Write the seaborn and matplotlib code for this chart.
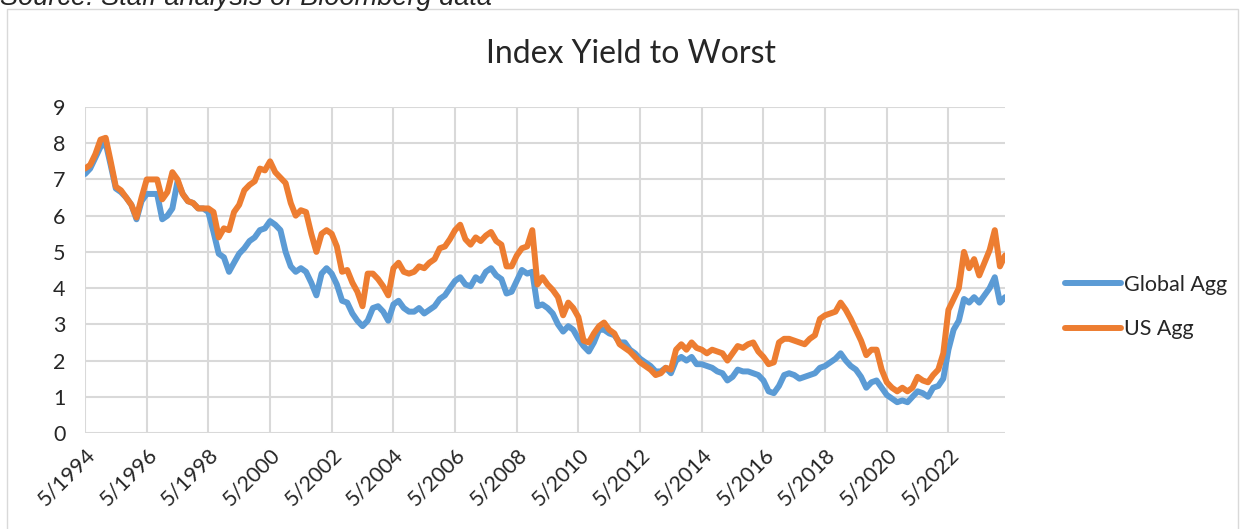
#Importing the necessary libraries
import matplotlib.pyplot as plt
from matplotlib.patches import Rectangle
import seaborn as sns
import pandas as pd

#Monthly points (every second month) from 5/1994 to 3/2024
dates = pd.date_range('1994-05-01', periods=180, freq='2MS')

global_agg = [7.15, 7.3, 7.6, 7.9, 8.0, 7.4, 6.75, 6.65, 6.5, 6.3,
              5.9, 6.4, 6.6, 6.6, 6.6, 5.9, 6.0, 6.2, 6.95, 6.6,
              6.4, 6.35, 6.2, 6.2, 6.1, 5.55, 4.95, 4.85, 4.45, 4.7,
              4.95, 5.1, 5.3, 5.4, 5.6, 5.65, 5.85, 5.75, 5.6, 5.0,
              4.6, 4.45, 4.55, 4.45, 4.15, 3.8, 4.4, 4.55, 4.4, 4.1,
              3.65, 3.6, 3.3, 3.1, 2.95, 3.1, 3.45, 3.5, 3.35, 3.1,
              3.55, 3.65, 3.45, 3.35, 3.35, 3.45, 3.3, 3.4, 3.5, 3.7,
              3.8, 4.0, 4.2, 4.3, 4.1, 4.05, 4.3, 4.2, 4.45, 4.55,
              4.35, 4.25, 3.85, 3.9, 4.2, 4.5, 4.4, 4.45, 3.5, 3.55,
              3.45, 3.3, 3.0, 2.8, 2.95, 2.85, 2.6, 2.4, 2.25, 2.5,
              2.85, 2.85, 2.75, 2.7, 2.5, 2.5, 2.3, 2.2, 2.05, 1.95,
              1.85, 1.7, 1.7, 1.8, 1.65, 2.0, 2.1, 2.0, 2.1, 1.9,
              1.9, 1.85, 1.8, 1.7, 1.65, 1.45, 1.55, 1.75, 1.7, 1.7,
              1.65, 1.6, 1.45, 1.15, 1.1, 1.3, 1.6, 1.65, 1.6, 1.5,
              1.55, 1.6, 1.65, 1.8, 1.85, 1.95, 2.05, 2.2, 2.0, 1.85,
              1.75, 1.55, 1.25, 1.4, 1.45, 1.25, 1.05, 0.95, 0.85, 0.9,
              0.85, 1.0, 1.15, 1.1, 1.0, 1.25, 1.3, 1.5, 2.3, 2.85,
              3.1, 3.7, 3.6, 3.75, 3.6, 3.8, 4.0, 4.3, 3.6, 3.75]

us_agg = [7.3, 7.4, 7.7, 8.1, 8.15, 7.5, 6.8, 6.7, 6.5, 6.3,
          5.95, 6.5, 7.0, 7.0, 7.0, 6.45, 6.65, 7.2, 7.0, 6.6,
          6.4, 6.35, 6.2, 6.2, 6.2, 6.1, 5.4, 5.65, 5.6, 6.1,
          6.3, 6.7, 6.85, 6.95, 7.3, 7.25, 7.5, 7.2, 7.05, 6.9,
          6.35, 6.0, 6.15, 6.1, 5.5, 5.0, 5.5, 5.6, 5.5, 5.15,
          4.45, 4.5, 4.15, 3.9, 3.5, 4.4, 4.4, 4.25, 4.05, 3.8,
          4.55, 4.7, 4.45, 4.4, 4.45, 4.6, 4.55, 4.7, 4.8, 5.1,
          5.15, 5.35, 5.6, 5.75, 5.35, 5.2, 5.4, 5.3, 5.45, 5.55,
          5.3, 5.2, 4.6, 4.6, 4.9, 5.1, 5.15, 5.6, 4.1, 4.3,
          4.1, 3.95, 3.75, 3.25, 3.6, 3.45, 3.2, 2.55, 2.5, 2.75,
          2.95, 3.05, 2.85, 2.75, 2.45, 2.35, 2.25, 2.1, 1.95, 1.85,
          1.75, 1.6, 1.65, 1.8, 1.75, 2.3, 2.45, 2.3, 2.5, 2.35,
          2.3, 2.2, 2.3, 2.25, 2.2, 2.0, 2.2, 2.4, 2.35, 2.45,
          2.5, 2.25, 2.1, 1.9, 1.95, 2.5, 2.6, 2.6, 2.55, 2.5,
          2.45, 2.6, 2.7, 3.15, 3.25, 3.3, 3.35, 3.6, 3.4, 3.15,
          2.85, 2.55, 2.15, 2.3, 2.3, 1.75, 1.4, 1.25, 1.15, 1.25,
          1.15, 1.25, 1.55, 1.45, 1.4, 1.6, 1.75, 2.2, 3.4, 3.7,
          4.0, 5.0, 4.55, 4.8, 4.35, 4.7, 5.05, 5.6, 4.6, 4.9]

series_names = ['Global Agg', 'US Agg']
series_colors = ['#5B9BD5', '#ED7D31']
y_ticks = [0, 1, 2, 3, 4, 5, 6, 7, 8, 9]
tick_dates = pd.date_range('1994-05-01', '2022-05-01', freq='24MS')

df = pd.DataFrame({'Date': list(dates) * 2,
                   'Yield': global_agg + us_agg,
                   'Series': [series_names[0]] * len(dates) + [series_names[1]] * len(dates)})

sns.set_style('white')
plt.rcParams['font.family'] = ['Lato', 'DejaVu Sans']

fig = plt.figure(figsize=(12.44, 5.29), dpi=100)
ax = fig.add_axes([85 / 1244, 1 - 433 / 529, 920 / 1244, 326 / 529])

sns.lineplot(data=df, x='Date', y='Yield', hue='Series', palette=series_colors,
             linewidth=4.3, ax=ax, legend=False)

#AXES
ax.set_xlim(dates[0], dates[-1])
ax.set_ylim(0, 9)
ax.set_yticks(y_ticks)
ax.set_xticks(tick_dates)
ax.set_xticklabels([f'{d.month}/{d.year}' for d in tick_dates], rotation=45,
                   ha='right', rotation_mode='anchor')
ax.tick_params(axis='both', length=0, labelsize=15.5)
ax.tick_params(axis='y', pad=14)
ax.tick_params(axis='x', pad=8)
ax.set_xlabel('')
ax.set_ylabel('')
ax.grid(True, color='#D9D9D9', linewidth=1.5)
ax.set_axisbelow(True)
for s in ax.spines.values():
    s.set_visible(False)

#TITLE AND LEGEND
fig.text(631 / 1244, 1 - 54 / 529, 'Index Yield to Worst', fontsize=23,
         ha='center', va='center')
handles = [plt.Line2D([], [], color=c, linewidth=4.3) for c in series_colors]
fig.legend(handles, series_names, loc='center left',
           bbox_to_anchor=(1065 / 1244, 1 - 307 / 529), frameon=False,
           fontsize=15.5, handlelength=2.6, handletextpad=0.15,
           labelspacing=1.15, borderpad=0, borderaxespad=0)

#CHART BORDER AND SOURCE NOTE
fig.patches.append(Rectangle((7 / 1244, -0.05), 1231 / 1244, 1.05 - 9 / 529,
                             transform=fig.transFigure, fill=False,
                             edgecolor='#D9D9D9', linewidth=1))
fig.text(0, 1 - 5 / 529, 'Source: Staff analysis of Bloomberg data',
         fontsize=19.5, style='italic', family='Liberation Sans', va='baseline')

plt.savefig('out.png', dpi=100)
